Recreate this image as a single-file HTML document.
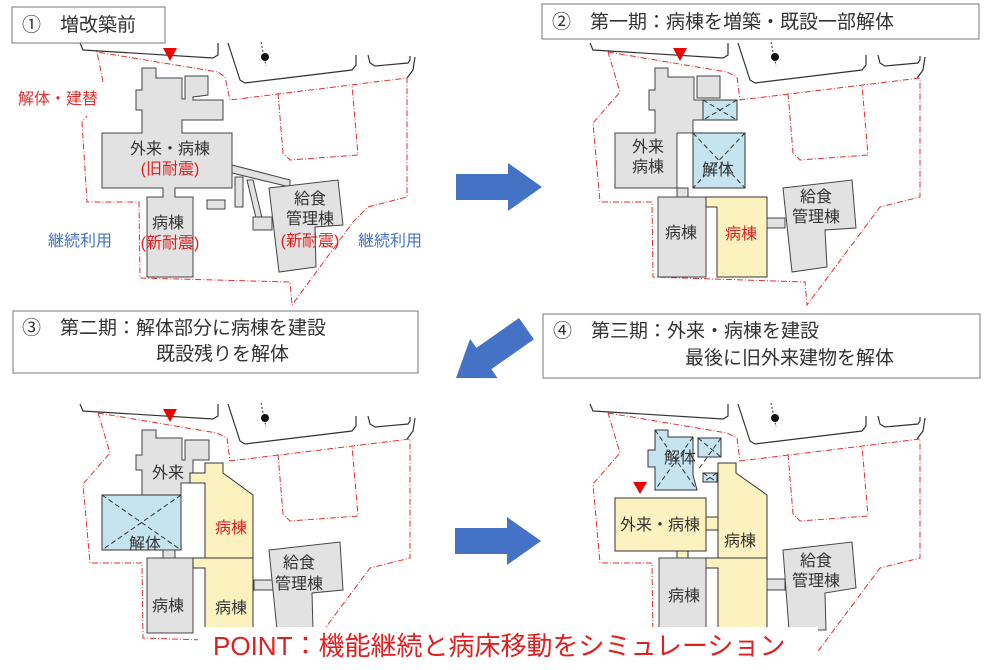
<!DOCTYPE html>
<html><head><meta charset="utf-8"><style>
body{margin:0;background:#fff}
svg{display:block}
text{font-family:"Liberation Sans","Noto Sans CJK JP",sans-serif}
.g{fill:#e2e2e2;stroke:#444;stroke-width:1}
.b{fill:#c5e4f0;stroke:#333;stroke-width:1}
.y{fill:#fcf2c0;stroke:#333;stroke-width:1}
.rd{fill:none;stroke:#e03030;stroke-width:1;stroke-dasharray:6 2 1 2}
.rk{fill:none;stroke:#333;stroke-width:1.2}
.l{font-size:16px;fill:#333;text-anchor:middle}
.lr{font-size:16px;fill:#e02020;text-anchor:middle}
.t{font-size:19px;fill:#333}
</style></head><body>
<svg width="988" height="670" viewBox="0 0 988 670" xmlns="http://www.w3.org/2000/svg">
<defs>
<g id="roads">
<polyline class="rk" points="80,43 83,50 213,58 218,55 218,43"/>
<polyline class="rk" points="228,43 240,80 245,83 352,70 356,65 356,55"/>
<polyline class="rk" points="368,55 370,63 375,66 408,63 410,60 410,56"/>
<polyline class="rk" points="415,57 413,70 407,78"/>
<line x1="261" y1="42" x2="266" y2="66" stroke="#333" stroke-dasharray="2 2"/>
<circle cx="265" cy="57" r="4" fill="#111"/>
<polyline class="rd" points="278,93 283,153 290,160 358,155 352,85"/>
</g>
<path id="tri" d="M163,48 L177,48 L170,61Z" fill="#e00"/>
<path id="arr" d="M0,0 L-34,-24 L-34,-13 L-86,-13 L-86,13 L-34,13 L-34,24Z" fill="#4472c4"/>
</defs>

<!-- Panel 1 -->
<use href="#roads"/>
<polyline class="rd" points="103,82 97,52 218,72 225,77 230,100 407,78 407,197 368,207 353,222 292,305 290,282 140,278 139,202 87,202 82,122 87,116"/>
<use href="#tri"/>
<path class="g" d="M142,68 H156 V78 H182 V99 H185 V76 H208 V95 L193,97 V100 H223 V120 H182 V133 H232 V188 H175 V197 H193 V277 H147 V197 H163 V188 H102 V133 H142 V110 H136 V90 H142 Z"/>
<path class="g" d="M232,165 L290,180 L290,187 L232,173Z"/>
<rect class="g" x="235" y="177" width="8" height="30"/>
<path class="g" d="M247,180 L253,180 L262,218 L256,218Z"/>
<rect class="g" x="207" y="200" width="18" height="9"/>
<rect class="g" x="253" y="217" width="19" height="13"/>
<path class="g" d="M269,188 L338,180 L343,225 L315,227 L316,267 L279,272Z"/>
<text class="l" x="170" y="154">外来・病棟</text>
<text class="lr" x="170" y="174">(旧耐震)</text>
<text class="l" x="168" y="228">病棟</text>
<text class="lr" x="170" y="248">(新耐震)</text>
<text class="l" x="310" y="204">給食</text>
<text class="l" x="310" y="224">管理棟</text>
<text class="lr" x="310" y="246">(新耐震)</text>
<text x="18" y="104" font-size="16" fill="#e03030">解体・建替</text>
<text x="48" y="246" font-size="16" fill="#4472c4">継続利用</text>
<text x="358" y="246" font-size="16" fill="#4472c4">継続利用</text>
<rect x="12" y="7" width="153" height="36" fill="#fff" stroke="#777"/>
<text class="t" x="22" y="31">①　増改築前</text>

<!-- Panel 2 -->
<g transform="translate(510,0)"><use href="#roads"/>
<polyline class="rd" points="98,52 217,72 227,77 230,100 410,78 410,197 370,207 297,305 295,282 143,277 142,202 90,202 83,123 110,92 98,52"/>
<use href="#tri"/></g>
<path class="g" d="M655,68 H668 V77 H694 V100 H703 V120 H693 V133 H677 V188 H615 V133 H655 V110 H649 V90 H655Z"/>
<path class="g" d="M697,76 H720 V98 H697Z"/>
<rect class="g" x="677" y="188" width="11" height="9"/>
<rect class="g" x="658" y="197" width="48" height="80"/>
<g class="b"><rect x="703" y="100" width="34" height="20"/><rect x="693" y="133" width="52" height="55"/></g>
<path d="M703,100 L737,120 M737,100 L703,120 M693,133 L745,188 M745,133 L693,188" stroke="#333" stroke-dasharray="5 3" fill="none"/>
<path class="y" d="M706,197 H767 V277 H717 V207 H706Z"/>
<rect class="g" x="767" y="218" width="18" height="10"/>
<path class="g" d="M783,188 L852,180 L856,228 L825,230 L827,267 L792,272Z"/>
<text class="l" x="648" y="152">外来</text>
<text class="l" x="648" y="172">病棟</text>
<text class="l" x="718" y="175">解体</text>
<text class="l" x="681" y="238">病棟</text>
<text class="lr" x="741" y="239">病棟</text>
<text class="l" x="816" y="202">給食</text>
<text class="l" x="816" y="222">管理棟</text>
<rect x="542" y="4" width="437" height="35" fill="#fff" stroke="#777"/>
<text class="t" x="552" y="28">②　第一期：病棟を増築・既設一部解体</text>

<!-- Panel 3 -->
<g transform="translate(0,361)"><use href="#roads"/>
<polyline class="rd" points="98,52 217,72 227,77 230,100 410,78 410,197 370,207 297,305 295,282 143,277 142,202 90,202 83,123 110,92 98,52"/>
<use href="#tri"/></g>
<path class="g" d="M142,430 H156 V438 H182 V460 H185 V440 H209 V460 H193 V473 H190 V483 H181 V495 H142 V470 H136 V455 H142Z"/>
<path class="b" d="M102,495 H181 V550 H102Z"/>
<path d="M102,495 L181,550 M181,495 L102,550" stroke="#333" stroke-dasharray="5 3" fill="none"/>
<rect class="g" x="163" y="550" width="12" height="8"/>
<rect class="g" x="147" y="558" width="46" height="75"/>
<path class="y" d="M190,473 H205 V463 H223 V473 L253,495 V558 H205 V483 H190Z"/>
<path class="y" d="M193,558 H253 V628 H205 V568 H193Z"/>
<rect class="g" x="254" y="580" width="19" height="10"/>
<path class="g" d="M269,550 L340,542 L343,590 L312,593 L313,630 L277,630Z"/>
<text class="l" x="168" y="478">外来</text>
<text class="l" x="145" y="549">解体</text>
<text class="lr" x="231" y="533">病棟</text>
<text class="l" x="231" y="613">病棟</text>
<text class="l" x="168" y="611">病棟</text>
<text class="l" x="299" y="568">給食</text>
<text class="l" x="299" y="589">管理棟</text>
<rect x="13" y="311" width="405" height="62" fill="#fff" stroke="#777"/>
<text class="t" x="22" y="334">③　第二期：解体部分に病棟を建設</text>
<text class="t" x="156" y="360">既設残りを解体</text>

<!-- Panel 4 -->
<g transform="translate(510,361)"><use href="#roads"/>
<polyline class="rd" points="98,52 217,72 227,77 230,100 410,78 410,197 370,207 297,305 295,282 143,277 142,202 90,202 83,123 110,92 98,52"/></g>
<path class="b" d="M655,430 H668 V437 H693 V475 L697,490 H655 V467 H648 V450 H655Z"/>
<rect class="b" x="698" y="438" width="23" height="19"/>
<rect class="b" x="703" y="473" width="14" height="9"/>
<path d="M655,430 L697,490 M693,437 L655,490 M698,438 L721,457 M721,438 L698,470 M703,473 L717,482 M717,473 L703,482" stroke="#333" stroke-dasharray="5 3" fill="none"/>
<path d="M633,482 L647,482 L640,494Z" fill="#e00"/>
<rect class="y" x="615" y="498" width="91" height="53"/>
<rect class="y" x="706" y="517" width="12" height="13"/>
<rect class="y" x="677" y="551" width="11" height="7"/>
<path class="y" d="M718,463 H736 V473 L767,495 V628 H718 V568 H706 V558 H718Z"/>
<line x1="718" y1="558" x2="767" y2="558" stroke="#333"/>
<rect class="g" x="659" y="558" width="47" height="70"/>
<rect class="g" x="767" y="579" width="18" height="11"/>
<path class="g" d="M783,550 L852,542 L856,588 L825,593 L826,630 L789,630Z"/>
<text class="l" x="680" y="463">解体</text>
<text class="l" x="660" y="530">外来・病棟</text>
<text class="l" x="740" y="546">病棟</text>
<text class="l" x="684" y="601">病棟</text>
<text class="l" x="816" y="566">給食</text>
<text class="l" x="816" y="586">管理棟</text>
<rect x="543" y="314" width="437" height="64" fill="#fff" stroke="#777"/>
<text class="t" x="553" y="337">④　第三期：外来・病棟を建設</text>
<text class="t" x="685" y="364">最後に旧外来建物を解体</text>

<!-- arrows -->
<use href="#arr" transform="translate(542,187)"/>
<use href="#arr" transform="translate(541,541)"/>
<use href="#arr" transform="translate(456,378) rotate(145)"/>

<!-- POINT -->
<rect x="198" y="627" width="620" height="43" fill="#fff"/>
<text x="213" y="655" font-size="26" fill="#e02020">POINT：機能継続と病床移動をシミュレーション</text>
</svg>
</body></html>
